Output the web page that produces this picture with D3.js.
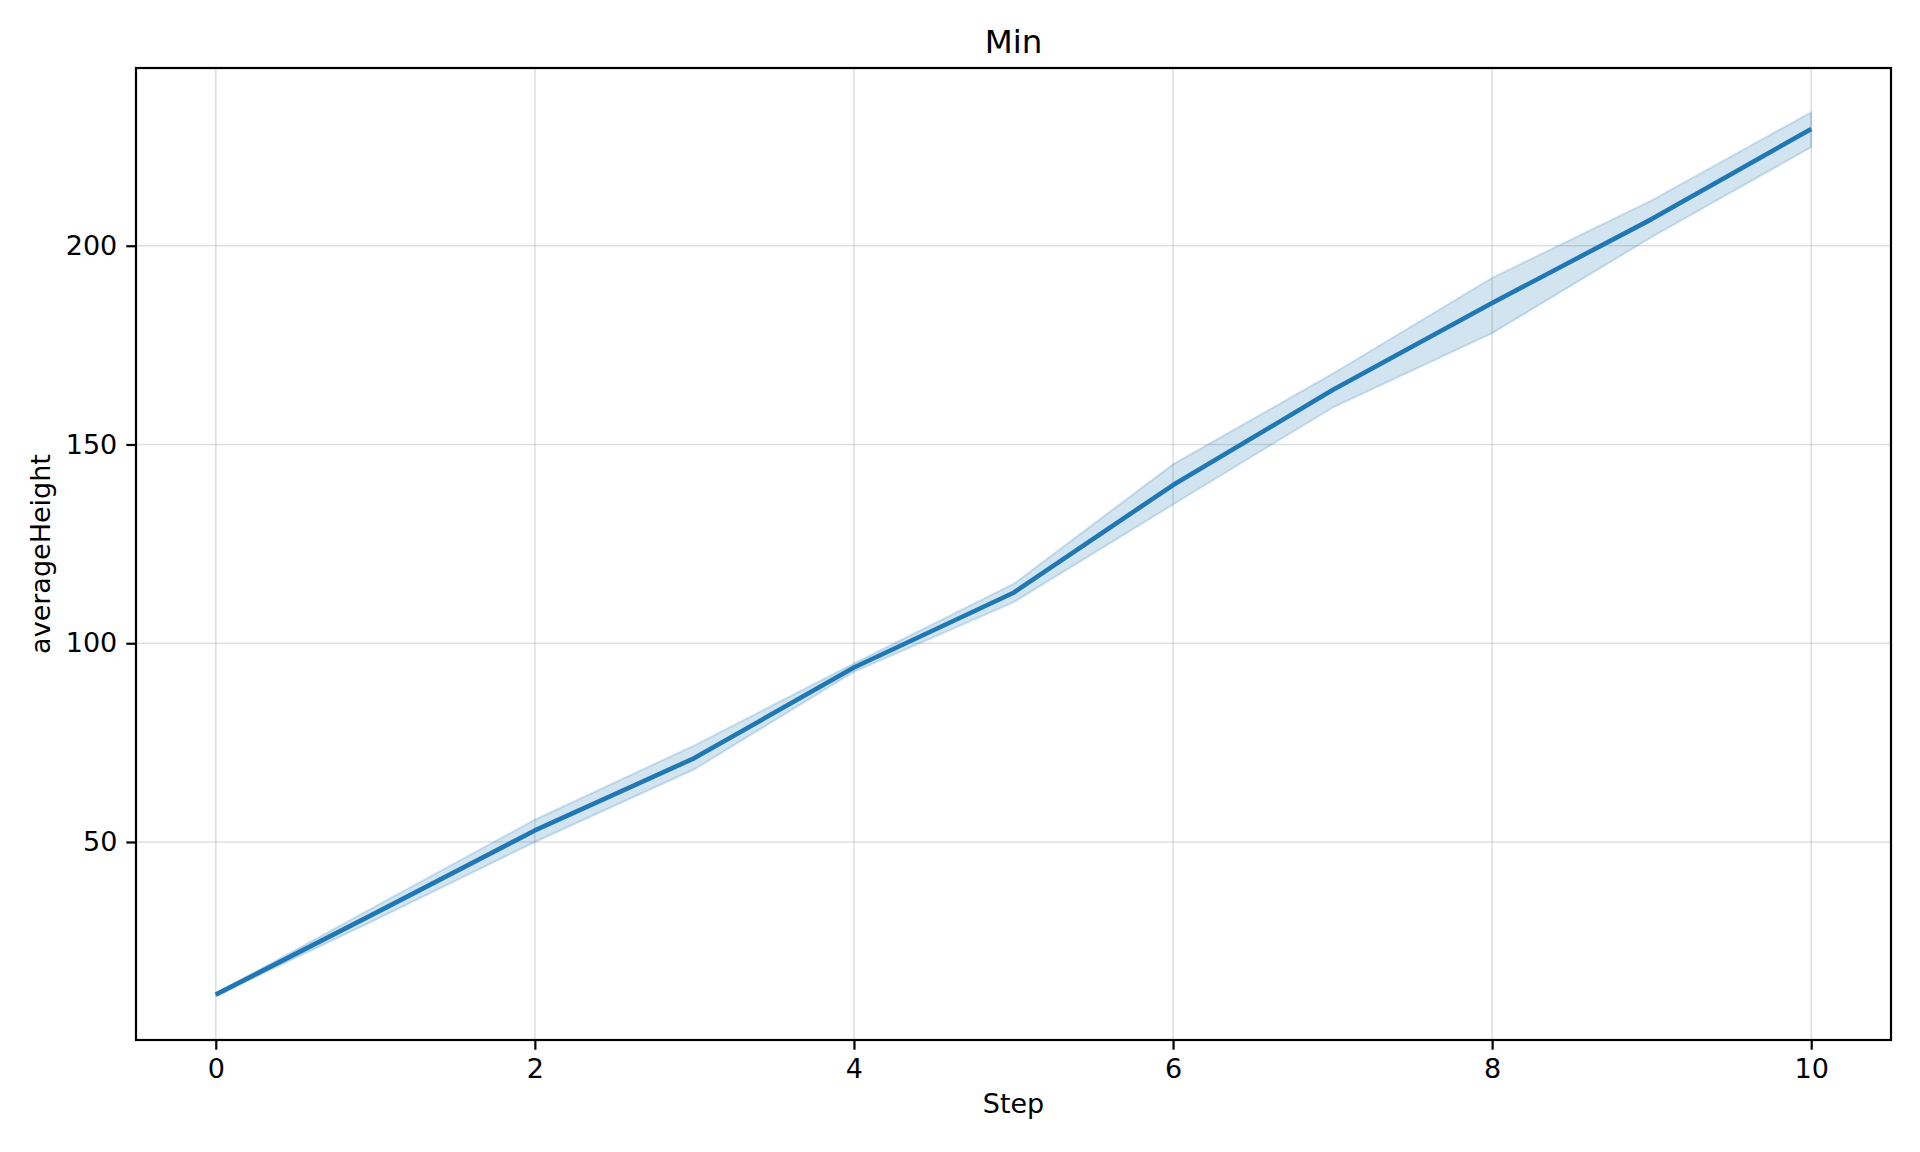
<!DOCTYPE html>
<html>
<head>
<meta charset="utf-8">
<script src="https://cdn.jsdelivr.net/npm/d3@7"></script>
<style>
  html, body { margin: 0; padding: 0; background: #fff; }
  svg text { font-family: "DejaVu Sans", sans-serif; fill: #000; }
</style>
</head>
<body>
<div id="chart"></div>
<script>
// values
var steps  = [0, 1, 2, 3, 4, 5, 6, 7, 8, 9, 10];
var meanH  = [11.6, 32.1, 52.9, 71.1, 93.9, 112.7, 139.8, 163.7, 185.6, 206.7, 229.4];
var upperH = [11.9, 33.8, 55.6, 74.3, 94.9, 114.9, 145.0, 167.8, 191.9, 211.4, 233.6];
var lowerH = [11.3, 30.4, 50.0, 68.3, 92.8, 110.3, 134.9, 159.3, 178.0, 202.2, 224.8];
var xTicks = [0, 2, 4, 6, 8, 10];
var yTicks = [50, 100, 150, 200];

var titleText = "Min", xLabel = "Step", yLabel = "averageHeight";

const widthSvg = 1920;
const heightSvg = 1152;
const margin = {top: 68, right: 29, bottom: 112, left: 136};
const width = widthSvg - (margin.left + margin.right);
const height = heightSvg - (margin.top + margin.bottom);
const blue = "#1f77b4";

var data = steps.map(function(s, i) {
  return {step: s, mean: meanH[i], hi: upperH[i], lo: lowerH[i]};
});

const svg = d3.select("#chart").append("svg")
  .attr("width", widthSvg)
  .attr("height", heightSvg);

// matplotlib style 5% margins around the data
var xMin = d3.min(steps), xMax = d3.max(steps);
var yMin = d3.min(lowerH), yMax = d3.max(upperH);
var xPad = (xMax - xMin) * 0.05, yPad = (yMax - yMin) * 0.05;

var x = d3.scaleLinear().domain([xMin - xPad, xMax + xPad]).range([0, width]),
    y = d3.scaleLinear().domain([yMin - yPad, yMax + yPad]).range([height, 0]);

var g = svg.append("g")
  .attr("transform", "translate(" + margin.left + "," + margin.top + ")");

// grid
g.append("g").selectAll("line.gx")
  .data(xTicks).enter().append("line")
  .attr("x1", function(d) { return x(d); }).attr("x2", function(d) { return x(d); })
  .attr("y1", 0).attr("y2", height)
  .attr("stroke", "#b0b0b0").attr("stroke-opacity", 0.4).attr("stroke-width", 1.6);

g.append("g").selectAll("line.gy")
  .data(yTicks).enter().append("line")
  .attr("y1", function(d) { return y(d); }).attr("y2", function(d) { return y(d); })
  .attr("x1", 0).attr("x2", width)
  .attr("stroke", "#b0b0b0").attr("stroke-opacity", 0.4).attr("stroke-width", 1.6);

// confidence band
var band = d3.area()
  .x(function(d) { return x(d.step); })
  .y0(function(d) { return y(d.lo); })
  .y1(function(d) { return y(d.hi); });

g.append("path")
  .datum(data)
  .attr("d", band)
  .attr("fill", blue).attr("fill-opacity", 0.2)
  .attr("stroke", blue).attr("stroke-opacity", 0.2).attr("stroke-width", 2);

// mean line
var line = d3.line()
  .x(function(d) { return x(d.step); })
  .y(function(d) { return y(d.mean); });

g.append("path")
  .datum(data)
  .attr("d", line)
  .attr("fill", "none")
  .attr("stroke", blue)
  .attr("stroke-width", 4.6)
  .attr("stroke-linejoin", "round");

// axes
var xAxis = g.append("g")
  .attr("transform", "translate(0," + height + ")")
  .call(d3.axisBottom(x).tickValues(xTicks).tickSize(9.7).tickPadding(8).tickFormat(d3.format("d")));

var yAxis = g.append("g")
  .call(d3.axisLeft(y).tickValues(yTicks).tickSize(9.7).tickPadding(9).tickFormat(d3.format("d")));

[xAxis, yAxis].forEach(function(ax) {
  ax.select(".domain").remove();
  ax.selectAll(".tick line").attr("stroke", "#000").attr("stroke-width", 2.2);
  ax.selectAll(".tick text")
    .style("font-family", "DejaVu Sans, sans-serif")
    .style("font-size", "27px")
    .attr("fill", "#000");
});
xAxis.selectAll(".tick text").attr("dy", "0.75em");

// frame
g.append("rect")
  .attr("x", 0).attr("y", 0)
  .attr("width", width).attr("height", height)
  .attr("fill", "none")
  .attr("stroke", "#000")
  .attr("stroke-width", 2.2);

// labels
svg.append("text")
  .attr("x", margin.left + width / 2)
  .attr("y", 52.7)
  .attr("text-anchor", "middle")
  .style("font-size", "32.5px")
  .text(titleText);

svg.append("text")
  .attr("x", margin.left + width / 2)
  .attr("y", 1113)
  .attr("text-anchor", "middle")
  .style("font-size", "27px")
  .text(xLabel);

svg.append("text")
  .attr("transform", "translate(50," + (margin.top + height / 2) + ") rotate(-90)")
  .attr("text-anchor", "middle")
  .style("font-size", "27px")
  .text(yLabel);
</script>
</body>
</html>
